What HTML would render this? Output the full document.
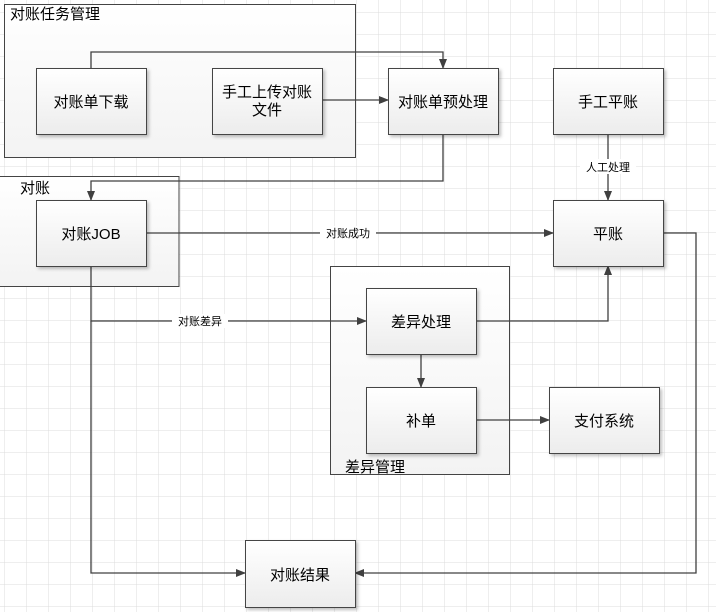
<!DOCTYPE html>
<html><head><meta charset="utf-8"><style>
html,body{margin:0;padding:0;background:#fff;}
svg{display:block;}
text{font-family:"Liberation Sans","Noto Sans CJK SC",sans-serif;}
</style></head><body>
<svg width="716" height="612" xmlns="http://www.w3.org/2000/svg">
<defs>
<pattern id="g" x="4" y="12" width="22" height="22" patternUnits="userSpaceOnUse">
<path d="M0 0H22M0 0V22" stroke="#dcdcdc" stroke-width="1" fill="none"/>
</pattern>
<linearGradient id="bg" x1="0" y1="0" x2="0" y2="1"><stop offset="0" stop-color="#ffffff"/><stop offset="1" stop-color="#ececec"/></linearGradient>
<linearGradient id="gg" x1="0" y1="0" x2="0" y2="1"><stop offset="0" stop-color="#ffffff"/><stop offset="1" stop-color="#f3f3f3"/></linearGradient>
<marker id="a" markerWidth="10" markerHeight="10" refX="9" refY="5" orient="auto" markerUnits="userSpaceOnUse"><path d="M0,1 L10,5 L0,9 Z" fill="#404040"/></marker>
<filter id="s" x="-10%" y="-10%" width="130%" height="130%"><feDropShadow dx="2" dy="2" stdDeviation="1.5" flood-color="#000" flood-opacity="0.25"/></filter>
</defs>
<rect width="716" height="612" fill="url(#g)"/>
<rect x="4.5" y="4.5" width="351" height="153" fill="url(#gg)" stroke="#444"/>
<text x="10" y="19" font-size="15">对账任务管理</text>
<rect x="-1" y="176.5" width="180" height="110" fill="url(#gg)" stroke="#444"/>
<text x="20" y="193" font-size="15">对账</text>
<rect x="330.5" y="266.5" width="179" height="208" fill="url(#gg)" stroke="#444"/>
<text x="345" y="472" font-size="15">差异管理</text>
<g stroke="#404040" stroke-width="1.3" fill="none">
<path d="M91 68V52H443V68" marker-end="url(#a)"/>
<path d="M322 100H388" marker-end="url(#a)"/>
<path d="M443 134V181H91V200" marker-end="url(#a)"/>
<path d="M608 134V200" marker-end="url(#a)"/>
<path d="M146 233H553" marker-end="url(#a)"/>
<path d="M91 266V321H366" marker-end="url(#a)"/>
<path d="M91 321V573H245" marker-end="url(#a)"/>
<path d="M476 321H608V266" marker-end="url(#a)"/>
<path d="M421 354V387" marker-end="url(#a)"/>
<path d="M476 420H549" marker-end="url(#a)"/>
<path d="M663 233H696V573H355" marker-end="url(#a)"/>
</g>
<g font-size="11" text-anchor="middle">
<rect x="580" y="159" width="56" height="15" fill="#fff"/><text x="608" y="171">人工处理</text>
<rect x="320" y="226" width="56" height="14" fill="#fff"/><text x="348" y="237">对账成功</text>
<rect x="172" y="314" width="56" height="14" fill="#fff"/><text x="200" y="325">对账差异</text>
</g>
<g stroke="#444" fill="url(#bg)" filter="url(#s)">
<rect x="36.5" y="68.5" width="110" height="66"/>
<rect x="212.5" y="68.5" width="110" height="66"/>
<rect x="388.5" y="68.5" width="110" height="66"/>
<rect x="553.5" y="68.5" width="110" height="66"/>
<rect x="36.5" y="200.5" width="110" height="66"/>
<rect x="553.5" y="200.5" width="110" height="66"/>
<rect x="366.5" y="288.5" width="110" height="66"/>
<rect x="366.5" y="387.5" width="110" height="66"/>
<rect x="549.5" y="387.5" width="110" height="66"/>
<rect x="245.5" y="540.5" width="110" height="67"/>
</g>
<g font-size="15" text-anchor="middle" fill="#000">
<text x="91" y="107">对账单下载</text>
<text x="267" y="97">手工上传对账</text>
<text x="267" y="115">文件</text>
<text x="443" y="107">对账单预处理</text>
<text x="608" y="107">手工平账</text>
<text x="91" y="239">对账JOB</text>
<text x="608" y="239">平账</text>
<text x="421" y="327">差异处理</text>
<text x="421" y="426">补单</text>
<text x="604" y="426">支付系统</text>
<text x="300" y="580">对账结果</text>
</g>
</svg>
</body></html>
